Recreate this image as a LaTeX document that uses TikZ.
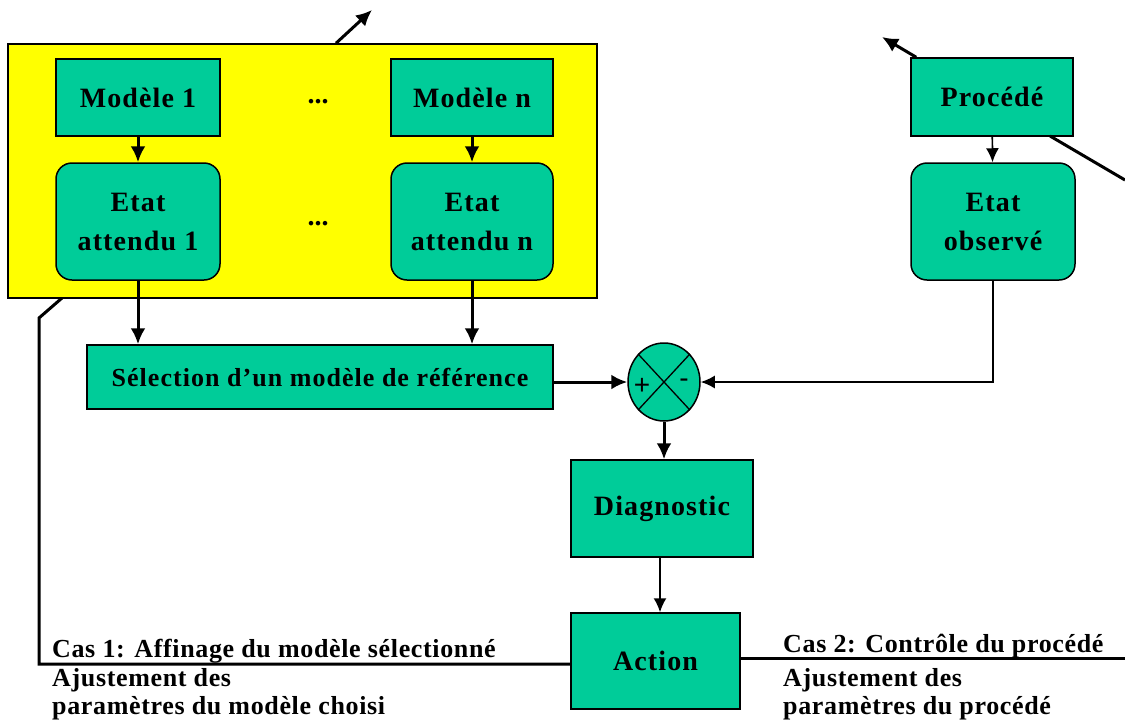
\documentclass[tikz,border=0pt]{standalone}
\usepackage{fontspec}
\setmainfont{Liberation Serif}
\newfontfamily\labfont{Liberation Serif}[LetterSpace=4]
\newfontfamily\capfont{Liberation Serif}[LetterSpace=2.5]
\newfontfamily\signfont{Liberation Sans}
\usetikzlibrary{arrows.meta,shapes.geometric}
\definecolor{boxgreen}{RGB}{0,204,153}
\definecolor{zoneyellow}{RGB}{255,255,0}

\begin{document}
\begin{tikzpicture}[x=1pt,y=-1pt,
  box/.style={draw=black, line width=1.5pt, fill=boxgreen, inner sep=0pt,
    align=center, font=\labfont\bfseries\fontsize{28}{39}\selectfont},
  statebox/.style={box, rounded corners=16pt},
  thick arrow/.style={line width=3pt, -{Latex[length=16pt,width=15pt]}},
  thin arrow/.style={line width=1.7pt, -{Latex[length=14pt,width=13pt]}},
  wire/.style={line width=3pt},
  caption/.style={anchor=base west, inner sep=0pt,
    font=\capfont\bfseries\fontsize{26}{28}\selectfont},
  dots/.style={font=\bfseries\fontsize{28}{30}\selectfont, inner sep=0pt}
]
\useasboundingbox (0,0) rectangle (1125,726);

% yellow zone holding the candidate models
\node[draw=black, line width=1.5pt, fill=zoneyellow, minimum width=589pt,
  minimum height=254pt, inner sep=0pt] (zone) at (302.5,171) {};
\coordinate (zoneout) at (372,10);
\draw[thick arrow] (zone.north west -| 336,0) -- (zoneout);

% model boxes
\node[box, minimum width=164pt, minimum height=77pt] (m1) at (138,97.5) {Modèle 1};
\node[box, minimum width=162pt, minimum height=77pt] (mn) at (472,97.5) {Modèle n};
\node[statebox, minimum width=164pt, minimum height=117pt] (e1) at (138,221.5) {Etat\\attendu 1};
\node[statebox, minimum width=162pt, minimum height=117pt] (en) at (472,221.5) {Etat\\attendu n};
\node[dots] (d1) at (318,102) {...};
\node[dots] (d2) at (318,224) {...};

% process side
\node[box, minimum width=162pt, minimum height=78pt] (proc) at (992,97) {Procédé};
\node[statebox, minimum width=164pt, minimum height=117pt] (obs) at (993,221.5) {Etat\\observé};
\coordinate (procout) at (882,37);
\coordinate (procin) at (1125,180);
\draw[thick arrow] (proc.north west) ++(6,0) -- (procout);
\draw[wire] (procin) -- (1050,136);

% selection and comparison
\node[box, font=\labfont\bfseries\fontsize{26}{39}\selectfont,
  minimum width=466pt, minimum height=64pt] (sel) at (320,377) {Sélection d’un modèle de référence};
\node[draw=black, line width=1.5pt, fill=boxgreen, ellipse, minimum width=72pt,
  minimum height=78pt, inner sep=0pt] (sum) at (664,382) {};
\draw[line width=1.3pt] (sum.north west) -- (sum.south east);
\draw[line width=1.3pt] (sum.north east) -- (sum.south west);
\node[font=\signfont\fontsize{28}{28}\selectfont, inner sep=0pt] (plus) at (642,386) {+};
\node[font=\signfont\fontsize{28}{28}\selectfont, inner sep=0pt] (minus) at (684,383) {-};

\node[box, minimum width=182pt, minimum height=97pt] (diag) at (662,508.5) {Diagnostic};
\node[box, minimum width=169pt, minimum height=96pt] (act) at (655.5,661) {Action};

% arrows
\draw[thick arrow] (m1) -- (e1);
\draw[thick arrow] (mn) -- (en);
\draw[thin arrow] (proc) -- (obs);
\draw[thick arrow] (e1.south) -- (e1.south |- sel.north);
\draw[thick arrow] (en.south) -- (en.south |- sel.north);
\draw[thick arrow] (sel.east |- sum.west) -- (sum.west);
\draw[thin arrow] (obs.south) |- (sum.east);
\draw[thick arrow] (sum.south) -- (sum.south |- diag.north);
\draw[thin arrow] (diag.south -| 660,0) -- (act.north -| 660,0);

% feedback lines from the action block
\coordinate (fbtop) at (62,298);
\coordinate (fbbend) at (39,318);
\coordinate (fbcorner) at (39,664);
\draw[wire, line join=miter] (fbtop) -- (fbbend) -- (fbcorner) -- (act.west |- fbcorner);
\coordinate (ctrlend) at (1125,658);
\draw[wire] (act.east |- ctrlend) -- (ctrlend);

% captions
\node[caption] (c1a) at (52,657) {Cas 1: Affinage du modèle sélectionné};
\node[caption] (c1b) at (52,686) {Ajustement des};
\node[caption] (c1c) at (52,714) {paramètres du modèle choisi};
\node[caption] (c2a) at (783,652) {Cas 2: Contrôle du procédé};
\node[caption] (c2b) at (783,686) {Ajustement des};
\node[caption] (c2c) at (783,714) {paramètres du procédé};
\end{tikzpicture}
\end{document}
